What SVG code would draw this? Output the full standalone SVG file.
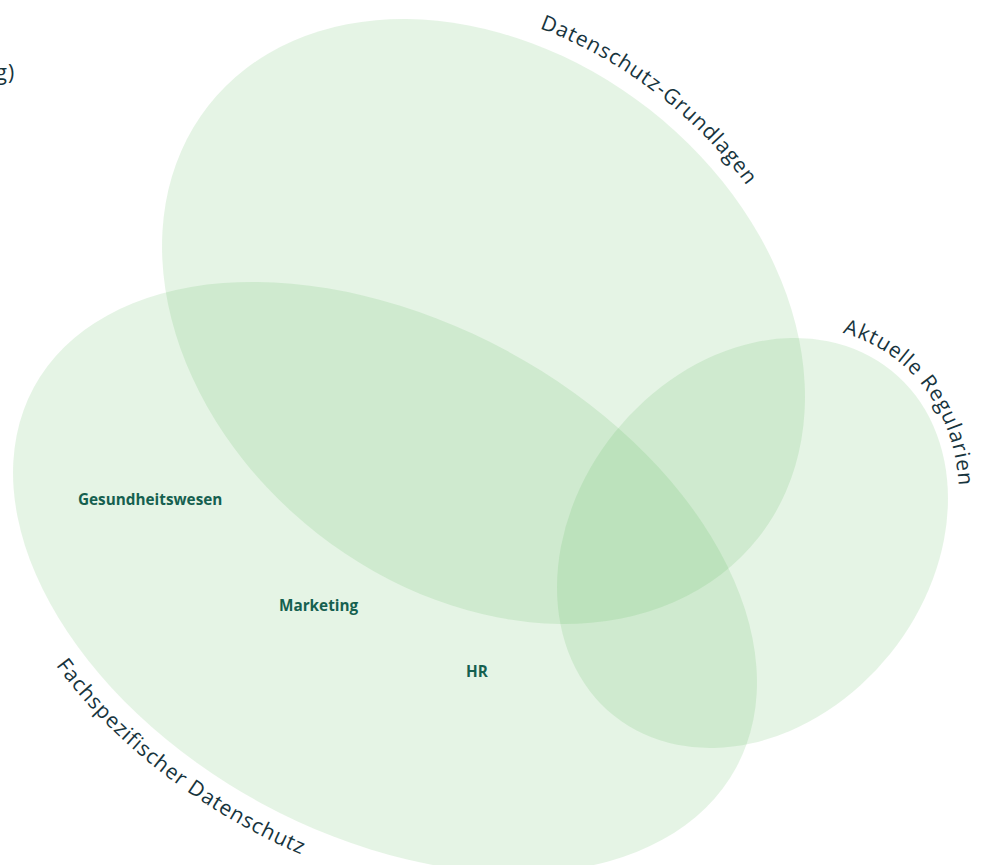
<svg xmlns="http://www.w3.org/2000/svg" xmlns:xlink="http://www.w3.org/1999/xlink" width="993" height="865" viewBox="0 0 993 865">
<style>
.set{fill:#56b856;fill-opacity:0.154;}
.lbl{font-family:"Open Sans","Liberation Sans",sans-serif;font-size:21px;font-weight:400;letter-spacing:0.9px;fill:#17343d;}
.item{font-family:"Open Sans","Liberation Sans",sans-serif;font-size:15.3px;font-weight:700;fill:#15604f;}
</style>
<defs>
<path id="p1" d="M -136.7 -265.4 A 366 286 0 0 1 366 0"/>
<path id="p3" d="M 220.2 -61.4 A 232 187 0 0 1 0 187"/>
<path id="p2" d="M -247.7 233.9 A 427 285 0 0 0 369.8 142.5"/>
</defs>
<g id="set-grundlagen">
<ellipse class="set" cx="0" cy="0" rx="349.7" ry="269.3" transform="translate(483.5 321.5) rotate(38.1)"/>
</g>
<g id="set-fach">
<ellipse class="set" cx="0" cy="0" rx="399.3" ry="257.4" transform="translate(385 577.5) rotate(28.4)"/>
</g>
<g id="set-regularien">
<ellipse class="set" cx="0" cy="0" rx="221.4" ry="176.7" transform="translate(752.5 543) rotate(-51.2)"/>
</g>
<g id="labels">
<text class="lbl" transform="translate(483.5 321.5) rotate(38.1)"><textPath xlink:href="#p1" href="#p1">Datenschutz-Grundlagen</textPath></text>
<text class="lbl" transform="translate(752.5 543) rotate(-51.2)"><textPath xlink:href="#p3" href="#p3">Aktuelle Regularien</textPath></text>
<text class="lbl" transform="translate(385 577.5) rotate(28.4)"><textPath xlink:href="#p2" href="#p2">Fachspezifischer Datenschutz</textPath></text>
<text class="lbl" x="15" y="80" text-anchor="end">g)</text>
</g>
<g id="item-gesundheitswesen"><text class="item" x="78" y="505">Gesundheitswesen</text></g>
<g id="item-marketing"><text class="item" x="279" y="611">Marketing</text></g>
<g id="item-hr"><text class="item" x="466" y="677">HR</text></g>
</svg>
